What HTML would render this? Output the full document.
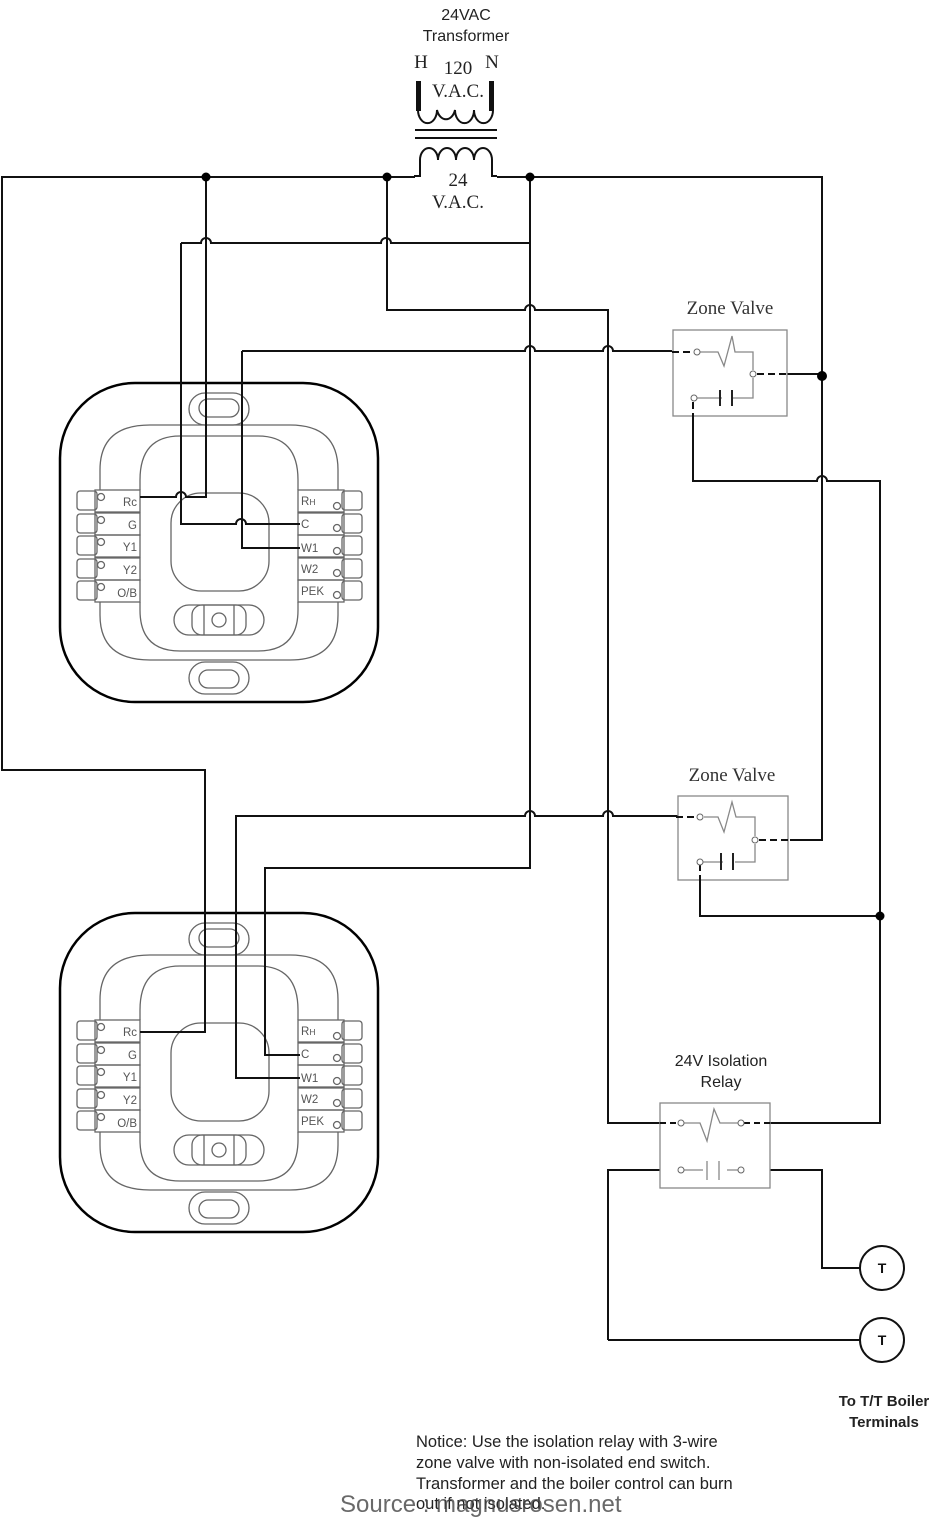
<!DOCTYPE html>
<html><head><meta charset="utf-8"><style>
html,body{margin:0;padding:0;background:#fff;}
svg{display:block;}
.s{font-family:"Liberation Sans",sans-serif;}
.r{font-family:"Liberation Serif",serif;}
</style></head><body>
<svg width="950" height="1524" viewBox="0 0 950 1524" xmlns="http://www.w3.org/2000/svg">
<defs>
<g id="tstat" fill="none" stroke="#666" stroke-width="1.3">
  <rect x="60" y="383" width="318" height="319" rx="75" stroke="#000" stroke-width="2.5"/>
  <path d="M100 490 V470 Q100 425 150 425 H290 Q338 425 338 470 V490 M100 602 V615 Q100 660 150 660 H290 Q338 660 338 615 V602"/>
  <path d="M140 490 V480 Q140 436 180 436 H258 Q298 436 298 480 V490 M140 602 V610 Q140 651 180 651 H258 Q298 651 298 610 V602"/>
  <rect x="171" y="493" width="98" height="98" rx="30"/>
  <rect x="189" y="393" width="60" height="32" rx="16"/>
  <rect x="199" y="399" width="40" height="18" rx="9"/>
  <rect x="189" y="662" width="60" height="32" rx="16"/>
  <rect x="199" y="670" width="40" height="18" rx="9"/>
  <rect x="174" y="605" width="90" height="30" rx="15"/>
  <rect x="192" y="605" width="54" height="30" rx="10"/>
  <line x1="204" y1="605" x2="204" y2="635"/><line x1="234" y1="605" x2="234" y2="635"/>
  <circle cx="219" cy="620" r="7"/>
  <g>
    <rect x="77" y="491" width="20" height="19" rx="3"/><rect x="95" y="490" width="45" height="22"/>
    <rect x="77" y="514" width="20" height="19" rx="3"/><rect x="95" y="513" width="45" height="22"/>
    <rect x="77" y="536" width="20" height="19" rx="3"/><rect x="95" y="535" width="45" height="22"/>
    <rect x="77" y="559" width="20" height="19" rx="3"/><rect x="95" y="558" width="45" height="22"/>
    <rect x="77" y="581" width="20" height="19" rx="3"/><rect x="95" y="580" width="45" height="22"/>
    <circle cx="101" cy="497" r="3.5"/><circle cx="101" cy="520" r="3.5"/><circle cx="101" cy="542" r="3.5"/><circle cx="101" cy="565" r="3.5"/><circle cx="101" cy="587" r="3.5"/>
    <rect x="342" y="491" width="20" height="19" rx="3"/><rect x="298" y="490" width="46" height="22"/>
    <rect x="342" y="514" width="20" height="19" rx="3"/><rect x="298" y="513" width="46" height="22"/>
    <rect x="342" y="536" width="20" height="19" rx="3"/><rect x="298" y="535" width="46" height="22"/>
    <rect x="342" y="559" width="20" height="19" rx="3"/><rect x="298" y="558" width="46" height="22"/>
    <rect x="342" y="581" width="20" height="19" rx="3"/><rect x="298" y="580" width="46" height="22"/>
    <circle cx="337" cy="506" r="3.5"/><circle cx="337" cy="528" r="3.5"/><circle cx="337" cy="551" r="3.5"/><circle cx="337" cy="573" r="3.5"/><circle cx="337" cy="595" r="3.5"/>
  </g>
  <g class="s" fill="#555" stroke="none" font-size="11.5">
    <text x="137" y="506" text-anchor="end">Rc</text>
    <text x="137" y="529" text-anchor="end">G</text>
    <text x="137" y="551" text-anchor="end">Y1</text>
    <text x="137" y="574" text-anchor="end">Y2</text>
    <text x="137" y="597" text-anchor="end">O/B</text>
    <text x="301" y="505">R<tspan font-size="8.5">H</tspan></text>
    <text x="301" y="528">C</text>
    <text x="301" y="552">W1</text>
    <text x="301" y="573">W2</text>
    <text x="301" y="595">PEK</text>
  </g>
</g>
</defs>

<use href="#tstat"/>
<use href="#tstat" transform="translate(0,530)"/>

<!-- transformer -->
<g class="s" font-size="16" fill="#222" text-anchor="middle">
  <text x="466" y="20">24VAC</text>
  <text x="466" y="41">Transformer</text>
</g>
<g class="r" font-size="19" fill="#222" text-anchor="middle">
  <text x="421" y="68">H</text><text x="458" y="74">120</text><text x="492" y="68">N</text>
  <text x="458" y="97">V.A.C.</text>
  <text x="458" y="186">24</text><text x="458" y="208">V.A.C.</text>
</g>
<g fill="none" stroke="#111" stroke-width="2">
  <rect x="417" y="82" width="3" height="28" fill="#111"/>
  <rect x="490" y="82" width="3" height="28" fill="#111"/>
  <path d="M418 110 A9.4 13 0 0 0 437 110 A9.4 13 0 0 0 455 110 A9.4 13 0 0 0 474 110 A9.4 13 0 0 0 493 110"/>
  <line x1="415" y1="130" x2="497" y2="130"/><line x1="415" y1="138" x2="497" y2="138"/>
  <path d="M420 160 A9 12 0 0 1 438 160 A9 12 0 0 1 456 160 A9 12 0 0 1 474 160 A9 12 0 0 1 492 160 V176 H497"/>
  <path d="M420 160 V176 H414"/>
</g>

<!-- wires -->
<g fill="none" stroke="#111" stroke-width="2">
  <path d="M415 177 H2 V770 H205 V1032 H140"/>
  <path d="M497 177 H822 V840 H790"/>
  <path d="M206 177 V497 H186 A5 5 0 0 0 176 497 H140"/>
  <path d="M181 243 H201 A5 5 0 0 1 211 243 H381 A5 5 0 0 1 391 243 H530"/>
  <path d="M181 243 V524 H236 A5 5 0 0 1 246 524 H300"/>
  <path d="M387 177 V310 H525 A5 5 0 0 1 535 310 H608 V1123 H660"/>
  <path d="M530 177 V868 H265 V1055 H300"/>
  <path d="M242 351 V548 H300"/>
  <path d="M242 351 H525 A5 5 0 0 1 535 351 H603 A5 5 0 0 1 613 351 H672"/>
  <path d="M300 1078 H236 V816 H525 A5 5 0 0 1 535 816 H603 A5 5 0 0 1 613 816 H678"/>
  <path d="M787 374 H822"/>
  <path d="M693 418 V481 H817 A5 5 0 0 1 827 481 H880 V1123 H770"/>
  <path d="M700 882 V916 H880"/>
  <path d="M608 1340 V1170 H660"/>
  <path d="M770 1170 H822 V1268 H860"/>
  <path d="M608 1340 H860"/>
</g>
<g fill="#000">
  <circle cx="206" cy="177" r="4.5"/><circle cx="387" cy="177" r="4.5"/><circle cx="530" cy="177" r="4.5"/>
  <circle cx="822" cy="376" r="5"/><circle cx="880" cy="916" r="4.5"/>
</g>

<!-- zone valve 1 -->
<text class="r" x="730" y="314" font-size="19" fill="#333" text-anchor="middle">Zone Valve</text>
<g fill="none" stroke="#888" stroke-width="1.3">
  <rect x="673" y="330" width="114" height="86"/>
  <path d="M700 352 H718 L724 366 L732 336 L735 352 H753 V370 M753 378 V398 H732 M722 398 H697"/>
</g>
<g stroke="#222" stroke-width="2"><line x1="720" y1="390" x2="720" y2="406"/><line x1="732" y1="390" x2="732" y2="406"/></g>
<g fill="none" stroke="#111" stroke-width="2" stroke-dasharray="7 4"><path d="M672 352 H694"/><path d="M757 374 H790"/><path d="M693 402 V420"/></g>
<g fill="#fff" stroke="#666"><circle cx="697" cy="352" r="3"/><circle cx="753" cy="374" r="3"/><circle cx="694" cy="398" r="3"/></g>

<!-- zone valve 2 -->
<text class="r" x="732" y="781" font-size="19" fill="#333" text-anchor="middle">Zone Valve</text>
<g fill="none" stroke="#888" stroke-width="1.3">
  <rect x="678" y="796" width="110" height="84"/>
  <path d="M704 817 H718 L724 832 L732 802 L736 817 H755 V836 M755 844 V862 H735 M723 862 H703"/>
</g>
<g stroke="#222" stroke-width="2"><line x1="721" y1="853" x2="721" y2="870"/><line x1="733" y1="853" x2="733" y2="870"/></g>
<g fill="none" stroke="#111" stroke-width="2" stroke-dasharray="7 4"><path d="M676 817 H698"/><path d="M759 840 H795"/><path d="M700 864 V882"/></g>
<g fill="#fff" stroke="#666"><circle cx="700" cy="817" r="3"/><circle cx="755" cy="840" r="3"/><circle cx="700" cy="862" r="3"/></g>

<!-- relay -->
<g class="s" font-size="16" fill="#222" text-anchor="middle"><text x="721" y="1066">24V Isolation</text><text x="721" y="1087">Relay</text></g>
<g fill="none" stroke="#888" stroke-width="1.3">
  <rect x="660" y="1103" width="110" height="85"/>
  <path d="M684 1123 H700 L707 1141 L714 1109 L720 1123 H738"/>
  <path d="M684 1170 H703 M727 1170 H738"/>
  <line x1="707" y1="1161" x2="707" y2="1180"/><line x1="719" y1="1161" x2="719" y2="1180"/>
</g>
<g fill="none" stroke="#111" stroke-width="2" stroke-dasharray="6 4"><path d="M660 1123 H678"/><path d="M744 1123 H770"/></g>
<g fill="#fff" stroke="#666"><circle cx="681" cy="1123" r="3"/><circle cx="741" cy="1123" r="3"/><circle cx="681" cy="1170" r="3"/><circle cx="741" cy="1170" r="3"/></g>

<!-- T terminals -->
<g fill="#fff" stroke="#111" stroke-width="2"><circle cx="882" cy="1268" r="22"/><circle cx="882" cy="1340" r="22"/></g>
<g class="s" font-size="14" font-weight="bold" text-anchor="middle" fill="#111"><text x="882" y="1273">T</text><text x="882" y="1345">T</text></g>
<g class="s" font-size="15" font-weight="bold" fill="#222" text-anchor="middle"><text x="884" y="1406">To T/T Boiler</text><text x="884" y="1427">Terminals</text></g>

<g class="s" font-size="16.5" fill="#222">
  <text x="416" y="1447">Notice: Use the isolation relay with 3-wire</text>
  <text x="416" y="1468">zone valve with non-isolated end switch.</text>
  <text x="416" y="1489">Transformer and the boiler control can burn</text>
  <text x="416" y="1509">out if not isolated.</text>
</g>
<text class="s" x="340" y="1512" font-size="24" fill="#444" opacity="0.8">Source : magnusrosen.net</text>
</svg>
</body></html>
